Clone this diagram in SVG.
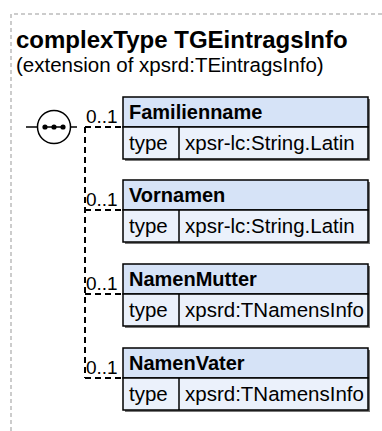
<svg xmlns="http://www.w3.org/2000/svg" width="382" height="431" viewBox="0 0 382 431">
<defs>
<style>
.frame{fill:none;stroke:#999;stroke-width:1;stroke-dasharray:4,3}
.title{font-family:"Liberation Sans",Arial,sans-serif;font-weight:bold;font-size:24px;fill:#000}
.sub{font-family:"Liberation Sans",Arial,sans-serif;font-size:20.5px;fill:#000}
.conn{fill:none;stroke:#000;stroke-width:2;stroke-dasharray:6,4}
.occ{font-family:"Liberation Sans",Arial,sans-serif;font-size:19px;fill:#000}
.hdr{fill:#d6e3f7;stroke:#000;stroke-width:1.5}
.row{fill:#ebf1fb;stroke:#000;stroke-width:1.5}
.shadow{fill:#777}
.name{font-family:"Liberation Sans",Arial,sans-serif;font-weight:bold;font-size:20px;fill:#000}
.cell{font-family:"Liberation Sans",Arial,sans-serif;font-size:20.5px;fill:#000}
</style>
</defs>
<rect width="382" height="431" fill="#fff"/>
<path class="frame" d="M11,431 V14 H382"/>
<text class="title" x="16" y="48">complexType TGEintragsInfo</text>
<text class="sub" x="16" y="72">(extension of xpsrd:TEintragsInfo)</text>

<g id="sequence">
<line x1="26" y1="127" x2="77" y2="127" stroke="#000" stroke-width="1.5"/>
<circle cx="54" cy="127" r="16.5" fill="#fff" stroke="#000" stroke-width="1.5"/>
<line x1="45" y1="127" x2="63" y2="127" stroke="#000" stroke-width="1.5"/>
<circle cx="45" cy="127" r="2.6" fill="#000"/>
<circle cx="54" cy="127" r="2.6" fill="#000"/>
<circle cx="63" cy="127" r="2.6" fill="#000"/>
</g>

<g id="connectors">
<path class="conn" d="M85,127 V378"/>
<path class="conn" d="M85,127 H122"/>
<path class="conn" d="M85,210 H122"/>
<path class="conn" d="M85,294 H122"/>
<path class="conn" d="M85,378 H122"/>
<text class="occ" x="86" y="123">0..1</text>
<text class="occ" x="86" y="206">0..1</text>
<text class="occ" x="86" y="290">0..1</text>
<text class="occ" x="86" y="374">0..1</text>
</g>

<g id="Familienname">
<rect class="shadow" x="125" y="99" width="245" height="62"/>
<rect class="hdr" x="123" y="97" width="245" height="30"/>
<rect class="row" x="123" y="127" width="245" height="32"/>
<line x1="179" y1="127" x2="179" y2="159" stroke="#000" stroke-width="1.5"/>
<text class="name" x="129" y="119">Familienname</text>
<text class="cell" x="129" y="150">type</text>
<text class="cell" x="185" y="150">xpsr-lc:String.Latin</text>
</g>

<g id="Vornamen">
<rect class="shadow" x="125" y="182" width="245" height="62"/>
<rect class="hdr" x="123" y="180" width="245" height="30"/>
<rect class="row" x="123" y="210" width="245" height="32"/>
<line x1="179" y1="210" x2="179" y2="242" stroke="#000" stroke-width="1.5"/>
<text class="name" x="129" y="202">Vornamen</text>
<text class="cell" x="129" y="233">type</text>
<text class="cell" x="185" y="233">xpsr-lc:String.Latin</text>
</g>

<g id="NamenMutter">
<rect class="shadow" x="125" y="266" width="245" height="62"/>
<rect class="hdr" x="123" y="264" width="245" height="30"/>
<rect class="row" x="123" y="294" width="245" height="32"/>
<line x1="179" y1="294" x2="179" y2="326" stroke="#000" stroke-width="1.5"/>
<text class="name" x="129" y="286">NamenMutter</text>
<text class="cell" x="129" y="317">type</text>
<text class="cell" x="185" y="317">xpsrd:TNamensInfo</text>
</g>

<g id="NamenVater">
<rect class="shadow" x="125" y="350" width="245" height="62"/>
<rect class="hdr" x="123" y="348" width="245" height="30"/>
<rect class="row" x="123" y="378" width="245" height="32"/>
<line x1="179" y1="378" x2="179" y2="410" stroke="#000" stroke-width="1.5"/>
<text class="name" x="129" y="370">NamenVater</text>
<text class="cell" x="129" y="401">type</text>
<text class="cell" x="185" y="401">xpsrd:TNamensInfo</text>
</g>
</svg>
